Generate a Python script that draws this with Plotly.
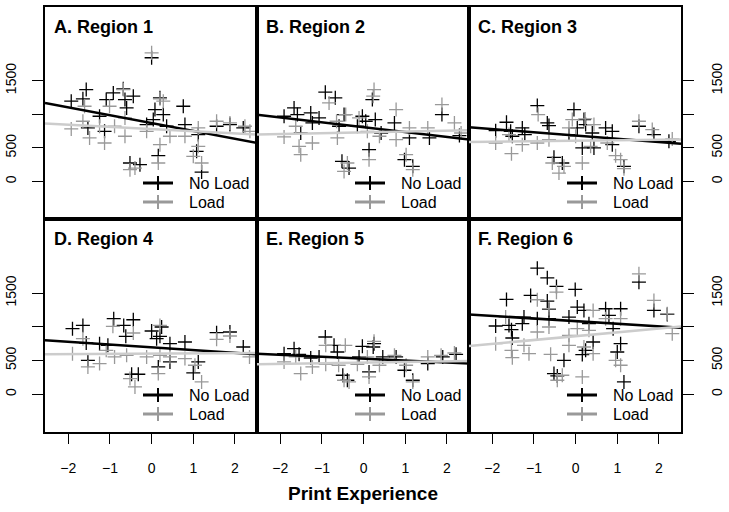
import plotly.graph_objects as go

W, H = 729, 512

# ---------------- data ----------------
panel_titles = ["A. Region 1", "B. Region 2", "C. Region 3",
                "D. Region 4", "E. Region 5", "F. Region 6"]
series_names = ["No Load", "Load"]
x_tick_vals = [-2, -1, 0, 1, 2]
y_tick_vals = [0, 500, 1000, 1500]
y_tick_text = ["0", "500", "", "1500"]

# Panel A
a_noload_x = [-1.93, -1.65, -1.57, -1.25, -1.53, -1.13, -1.09, -0.92, -0.68, -0.64, -0.60, -0.44, -0.52, -0.28,
              -0.12, 0.0, 0.04, 0.08, 0.2, 0.28, 0.16, 0.36, 0.76, 0.8, 1.12, 1.08, 1.2, 1.56, 1.88, 2.2]
a_noload_y = [1194, 1229, 1368, 970, 796, 746, 1219, 1318, 1378, 1219, 1094, 1269, 274, 249,
              846, 1841, 920, 1070, 1244, 995, 383, 821, 1119, 846, 697, 448, 139, 821, 846, 796]
a_load_x = [-1.93, -1.61, -1.65, -1.49, -1.25, -1.13, -1.01, -0.89, -0.68, -0.64, -0.64, -0.52, -0.40, -0.12,
            0.0, 0.16, 0.2, 0.2, 0.28, 0.44, 0.8, 1.0, 1.12, 1.2, 1.12, 1.56, 1.88, 2.24, 2.36]
a_load_y = [781, 1119, 896, 647, 821, 572, 1119, 821, 1368, 672, 945, 174, 199, 746,
            1915, 274, 547, 1229, 1194, 672, 672, 373, 522, 274, 796, 896, 871, 821, 746]

# Panel B
b_noload_x = [-1.91, -1.67, -1.59, -1.51, -1.27, -1.23, -1.07, -0.92, -0.68, -0.59, -0.47, -0.52, -0.35, -0.15,
              -0.03, 0.05, 0.21, 0.28, 0.13, 0.42, 0.74, 0.98, 1.18, 1.1, 1.58, 1.88, 2.3]
b_noload_y = [970, 1094, 995, 721, 1020, 871, 945, 1328, 1244, 821, 995, 299, 199, 821,
              970, 896, 1219, 920, 473, 721, 871, 323, 224, 647, 647, 995, 682]
b_load_x = [-1.91, -1.63, -1.55, -1.51, -1.23, -0.83, -0.63, -0.65, -0.43, -0.47, -0.39, -0.11, 0.09, 0.25,
            0.23, 0.13, 0.38, 0.78, 0.78, 1.02, 1.18, 1.1, 1.54, 1.88, 2.18, 2.34]
b_load_y = [662, 821, 522, 398, 572, 1169, 647, 896, 995, 149, 274, 945, 746, 1368,
            1269, 323, 672, 1070, 622, 398, 174, 796, 796, 1144, 871, 721]

# Panel C
c_noload_x = [-1.92, -1.66, -1.56, -1.52, -1.28, -1.22, -0.92, -0.68, -0.64, -0.52, -0.32, -0.16, -0.04, 0.04,
              0.2, 0.24, 0.16, 0.4, 0.44, 0.72, 0.88, 0.88, 1.16, 1.52, 1.88, 2.24]
c_noload_y = [756, 881, 746, 672, 796, 697, 1129, 871, 831, 358, 274, 697, 1070, 796,
              920, 846, 498, 721, 498, 796, 746, 547, 224, 821, 697, 597]
c_load_x = [-1.92, -1.6, -1.54, -1.28, -0.9, -0.92, -0.64, -0.56, -0.4, -0.28, -0.16, -0.08, 0.0, 0.16,
            0.23, 0.36, 0.44, 0.76, 0.96, 1.08, 1.16, 1.52, 1.84, 2.32]
c_load_y = [572, 697, 413, 547, 995, 572, 622, 274, 124, 224, 796, 920, 672, 274,
            930, 522, 846, 572, 383, 323, 189, 896, 771, 632]

# Panel D
d_noload_x = [-1.9, -1.65, -1.57, -1.53, -1.25, -1.05, -0.91, -0.67, -0.62, -0.44, -0.48, -0.32, 0.0, 0.12,
              0.2, 0.24, 0.16, 0.44, 0.44, 0.8, 1.0, 1.12, 1.56, 1.88, 2.2]
d_noload_y = [971, 1020, 759, 503, 749, 725, 1119, 1020, 858, 1104, 296, 296, 937, 823,
              858, 996, 404, 749, 478, 774, 316, 478, 912, 922, 700]
d_load_x = [-1.9, -1.65, -1.53, -1.25, -1.09, -0.93, -0.89, -0.6, -0.44, -0.52, -0.4, -0.12, 0.16, 0.2,
            0.2, 0.44, 0.8, 1.04, 1.2, 1.56, 1.88, 2.35]
d_load_y = [601, 823, 404, 454, 651, 1006, 552, 577, 907, 232, 108, 552, 306, 1020,
            577, 552, 528, 429, 182, 813, 863, 552]

# Panel E
e_noload_x = [-1.91, -1.67, -1.55, -1.27, -1.07, -0.92, -0.71, -0.63, -0.5, -0.39, -0.03, -0.11, 0.13, 0.23,
              0.25, 0.46, 0.78, 0.98, 1.18, 1.54, 1.9, 2.22]
e_noload_y = [601, 675, 592, 537, 552, 848, 725, 626, 281, 207, 710, 552, 330, 700,
              749, 552, 552, 355, 207, 454, 552, 592]
e_load_x = [-1.91, -1.63, -1.51, -1.23, -0.91, -0.91, -0.6, -0.44, -0.47, -0.35, -0.15, 0.09, 0.13, 0.25,
            0.38, 0.74, 1.02, 1.18, 1.54, 1.86, 2.18]
e_load_y = [478, 552, 306, 404, 444, 725, 429, 725, 207, 182, 444, 552, 256, 784,
            429, 577, 429, 182, 552, 577, 611]

# Panel F
f_noload_x = [-1.92, -1.66, -1.6, -1.54, -1.52, -1.28, -1.24, -1.08, -0.92, -0.92, -0.68, -0.68, -0.64, -0.64,
              -0.46, -0.28, -0.52, -0.44, -0.16, -0.01, 0.04, 0.2, 0.16, 0.24, 0.42, 0.32, 0.72, 0.8,
              0.9, 1.0, 1.08, 1.08, 1.16, 1.52, 1.88, 2.2]
f_noload_y = [1011, 1405, 1020, 956, 833, 1045, 1144, 1464, 1868, 1119, 1725, 1380, 1257, 1119,
              1597, 503, 306, 271, 1144, 1553, 1292, 1242, 587, 651, 774, 1045, 1267, 1168,
              971, 626, 749, 1267, 182, 1661, 1242, 1183]
f_load_x = [-1.92, -1.68, -1.54, -1.52, -1.24, -1.12, -0.92, -0.92, -0.64, -0.64, -0.6, -0.46, -0.44, -0.32,
            -0.16, -0.16, 0.04, 0.16, 0.2, 0.32, 0.42, 0.42, 0.72, 0.96, 1.08, 1.08, 1.52, 1.88,
            2.2, 2.32]
f_load_y = [749, 1144, 651, 542, 725, 601, 922, 1400, 1267, 996, 592, 1513, 207, 281,
            873, 725, 971, 256, 700, 947, 1242, 601, 1119, 503, 429, 1119, 1785, 1390,
            1193, 897]

# fitted regression lines (intercept, slope) per panel
noload_intercepts = [869, 807, 683, 694, 527, 1083]
noload_slopes = [-117, -73, -48, -41, -29, -39]
load_intercepts = [779, 729, 605, 602, 469, 861]
load_slopes = [-32, 12.6, 7, 4, 9.6, 57]

noload_x = [a_noload_x, b_noload_x, c_noload_x, d_noload_x, e_noload_x, f_noload_x]
noload_y = [a_noload_y, b_noload_y, c_noload_y, d_noload_y, e_noload_y, f_noload_y]
load_x = [a_load_x, b_load_x, c_load_x, d_load_x, e_load_x, f_load_x]
load_y = [a_load_y, b_load_y, c_load_y, d_load_y, e_load_y, f_load_y]

# ---------------- style ----------------
X_RANGE = [-2.56, 2.53]
Y_RANGE = [-560, 2597]
BLACK = "#000000"
GRAY_PT = "#999999"
GRAY_LINE = "#cccccc"
FONT = "Liberation Sans, Arial, Helvetica, sans-serif"

PANEL_L, PANEL_W = 45, 212
ROW_TOP = [7, 219]
ROW_BOT = [219, 432]

fig = go.Figure()
layout = dict(width=W, height=H, margin=dict(l=0, r=0, t=0, b=0),
              paper_bgcolor="white", plot_bgcolor="white", showlegend=False,
              font=dict(family=FONT, size=14, color="black"))
shapes, annotations = [], []

def px(x):
    return x / W

def py(y):
    return 1 - y / H

for i in range(6):
    r, c = divmod(i, 3)
    n = i + 1
    xa = "x" if n == 1 else f"x{n}"
    ya = "y" if n == 1 else f"y{n}"
    xkey = "xaxis" if n == 1 else f"xaxis{n}"
    ykey = "yaxis" if n == 1 else f"yaxis{n}"

    x0 = PANEL_L + PANEL_W * c
    layout[xkey] = dict(
        domain=[px(x0), px(x0 + PANEL_W)], range=X_RANGE, anchor=ya,
        showgrid=False, zeroline=False, showline=True, mirror=True,
        linecolor="black", linewidth=1.5,
        tickvals=x_tick_vals if r == 1 else [],
        ticks="outside" if r == 1 else "", ticklen=10, tickwidth=1.2, tickcolor="black",
        showticklabels=(r == 1), ticklabelstandoff=12,
        tickfont=dict(size=14, family=FONT),
    )
    yside = "left" if c == 0 else "right"
    show_y = c != 1
    layout[ykey] = dict(
        domain=[py(ROW_BOT[r]), py(ROW_TOP[r])], range=Y_RANGE, anchor=xa, side=yside,
        showgrid=False, zeroline=False, showline=True, mirror=True,
        linecolor="black", linewidth=1.5,
        tickvals=y_tick_vals if show_y else [], ticktext=y_tick_text if show_y else [],
        ticks="outside" if show_y else "", ticklen=11, tickwidth=1.2, tickcolor="black",
        showticklabels=show_y, tickangle=-90, ticklabelstandoff=11,
        tickfont=dict(size=14, family=FONT),
    )

    # points
    fig.add_trace(go.Scatter(x=noload_x[i], y=noload_y[i], mode="markers", xaxis=xa, yaxis=ya,
                             name=series_names[0], cliponaxis=True,
                             marker=dict(symbol="cross-thin", size=10, line=dict(color=BLACK, width=1.3))))
    fig.add_trace(go.Scatter(x=load_x[i], y=load_y[i], mode="markers", xaxis=xa, yaxis=ya,
                             name=series_names[1], cliponaxis=True,
                             marker=dict(symbol="cross-thin", size=10, line=dict(color=GRAY_PT, width=1.3))))
    # regression lines
    xs = X_RANGE
    fig.add_trace(go.Scatter(x=xs, y=[noload_intercepts[i] + noload_slopes[i] * v for v in xs],
                             mode="lines", xaxis=xa, yaxis=ya, line=dict(color=BLACK, width=2.5)))
    fig.add_trace(go.Scatter(x=xs, y=[load_intercepts[i] + load_slopes[i] * v for v in xs],
                             mode="lines", xaxis=xa, yaxis=ya, line=dict(color=GRAY_LINE, width=2.5)))

    # panel title
    ox, oy = PANEL_W * c, 212 * r
    annotations.append(dict(text="<b>" + panel_titles[i] + "</b>", x=px(52 + ox), y=py(27 + oy),
                            xref="paper", yref="paper", xanchor="left", yanchor="middle",
                            showarrow=False, font=dict(size=18, family=FONT, color="black")))
    # legend
    for k, (col, ly) in enumerate([(BLACK, 183), (GRAY_PT, 202)]):
        yy = ly + oy
        shapes.append(dict(type="line", xref="paper", yref="paper",
                           x0=px(143 + ox), x1=px(173 + ox), y0=py(yy), y1=py(yy),
                           line=dict(color=col, width=3)))
        shapes.append(dict(type="line", xref="paper", yref="paper",
                           x0=px(158 + ox), x1=px(158 + ox), y0=py(yy - 7), y1=py(yy + 7),
                           line=dict(color=col, width=2)))
        annotations.append(dict(text=series_names[k], x=px(187 + ox), y=py(yy),
                                xref="paper", yref="paper", xanchor="left", yanchor="middle",
                                showarrow=False, font=dict(size=16, family=FONT, color="black")))

annotations.append(dict(text="<b>Print Experience</b>", x=px(363), y=py(493), xref="paper", yref="paper",
                        xanchor="center", yanchor="middle", showarrow=False,
                        font=dict(size=19, family=FONT, color="black")))

layout["shapes"] = shapes
layout["annotations"] = annotations
fig.update_layout(**layout)
fig.write_html("out.html", config={"displayModeBar": False},
               post_script="document.body.style.margin='0';document.body.style.overflow='hidden';")
